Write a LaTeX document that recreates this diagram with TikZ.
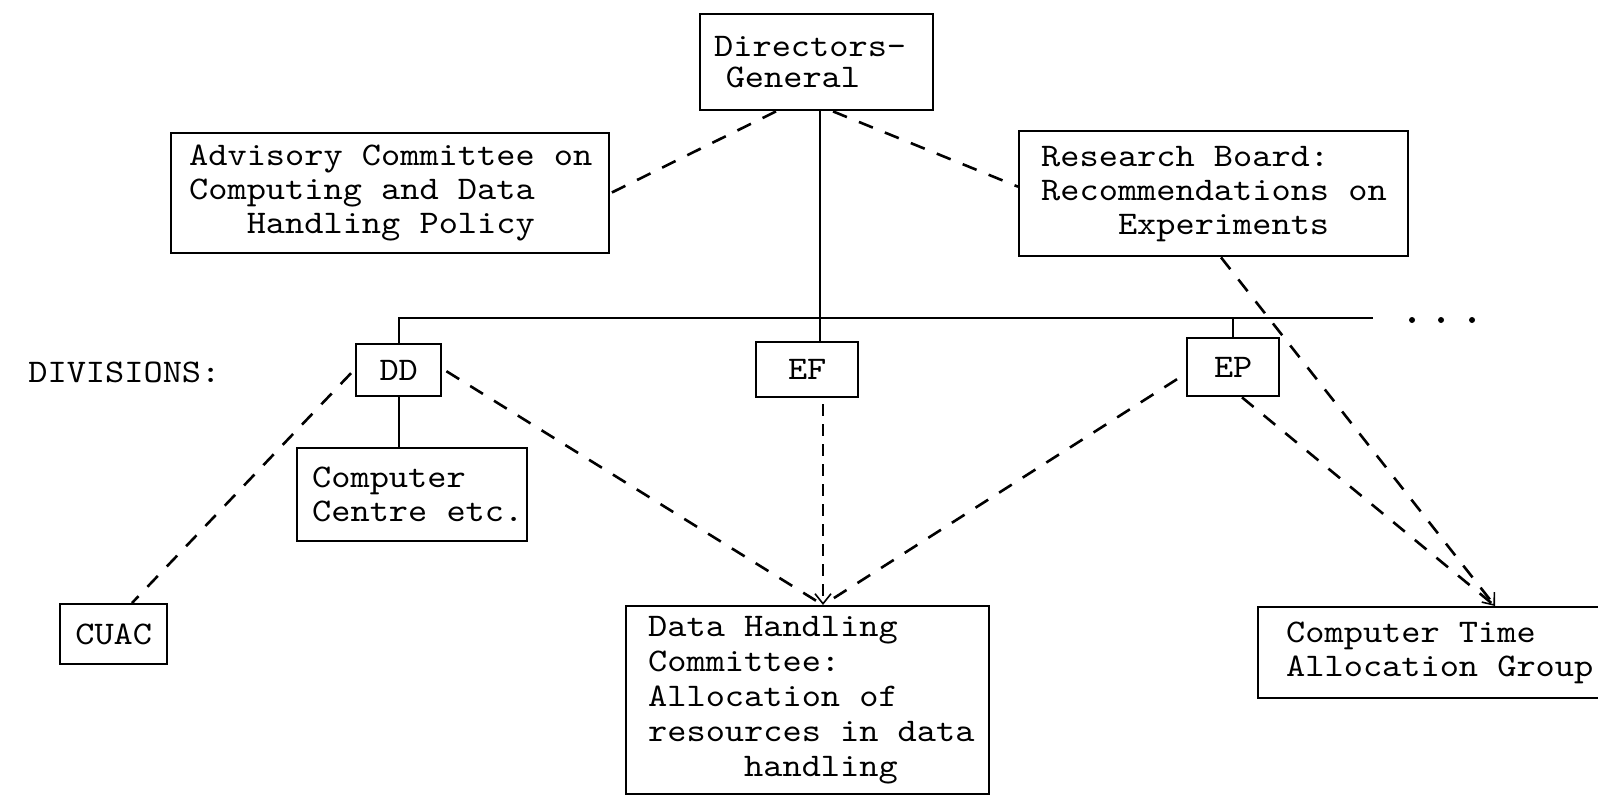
\documentclass[tikz,border=0pt]{standalone}
\usepackage{fontspec}
\newfontfamily\twfont{lmmono10-regular}[Extension=.otf, FakeStretch=1.108]
\usetikzlibrary{calc,arrows.meta}
\newcommand\sk{\phantom{x}}
\begin{document}
\begin{tikzpicture}[x=0.5pt,y=-0.5pt,
  every node/.style={font=\twfont\fontsize{16.5pt}{17pt}\selectfont},
  box/.style={draw, line width=1.2pt, rectangle, inner ysep=0pt, anchor=north west, align=left},
  sbox/.style={draw, line width=1.2pt, rectangle, inner sep=0pt, anchor=north west, align=center},
  link/.style={line width=0.8pt},
  dlink/.style={line width=1.3pt, dash pattern=on 7.5pt off 6.5pt},
  tlink/.style={line width=0.6pt, dash pattern=on 6pt off 4pt},
  tip/.style={-{Straight Barb[length=5pt,width=8pt,line width=0.8pt]}}
]
\fill[white] (0,0) rectangle (1598,797);
\useasboundingbox (0,0) rectangle (1598,797);

% boxes
\node[box, minimum width=116.5pt, minimum height=48pt, text width=102.5pt, inner xsep=7pt,
  font=\twfont\fontsize{16.5pt}{15.5pt}\selectfont] (dg) at (699,13)
  {Directors-\\\hspace*{0.35em}General};
\node[box, minimum width=219pt, minimum height=60pt, text width=201pt, inner xsep=9pt] (adv) at (170,132)
  {Advisory\sk Committee\sk on\\Computing\sk and\sk Data\\\phantom{xxx}Handling\sk Policy};
\node[box, minimum width=194.5pt, minimum height=62.5pt, text width=172.5pt, inner xsep=11pt] (rb) at (1018,130)
  {Research\sk Board:\\Recommendations\sk on\\\phantom{xxxx}Experiments};
\node[sbox, minimum width=42.5pt, minimum height=26pt] (dd) at (355,343) {DD};
\node[sbox, minimum width=51pt, minimum height=27.5pt] (ef) at (755,341) {EF};
\node[sbox, minimum width=46pt, minimum height=29pt] (ep) at (1186,337) {EP};
\node[box, minimum width=115pt, minimum height=46.5pt, text width=100pt, inner xsep=7.5pt] (cc) at (296,447)
  {Computer\\Centre\sk etc.};
\node[sbox, minimum width=53.5pt, minimum height=30pt] (cuac) at (59,603) {CUAC};
\node[box, minimum width=181.5pt, minimum height=94pt, text width=159.5pt, inner xsep=11pt,
  font=\twfont\fontsize{16.5pt}{17.5pt}\selectfont] (dhc) at (625,605)
  {Data\sk Handling\\Committee:\\Allocation\sk of\\resources\sk in\sk data\\\phantom{xxxxx}handling};
\node[box, minimum width=181.5pt, minimum height=45.5pt, text width=153.5pt, inner xsep=14pt] (ctag) at (1257,606)
  {Computer\sk Time\\Allocation\sk Group};
\node[anchor=west, inner sep=0pt] (div) at (28,372) {DIVISIONS:};

% coordinates
\coordinate (busR) at (1373,318);
\coordinate (dhcin) at ($(dhc.north west)+(198,0)$);
\coordinate (ctagin) at ($(ctag.north west)+(238,0)$);

% solid hierarchy
\draw[link] (dd.north) |- (busR);
\draw[link] ($(dg.south west)+(121,0)$) -- ($(ef.north west)+(65,0)$);
\draw[link] (ep.north) -- (ep.north |- busR);
\draw[link] (dd.south) -- (dd.south |- cc.north);
\fill (1412,320) circle (1.5pt);
\fill (1441,320) circle (1.5pt);
\fill (1472,320) circle (1.5pt);

% dashed relations
\draw[dlink] ($(dg.south west)+(77,0)$) -- (adv.east);
\draw[dlink] ($(dg.south west)+(134,0)$) -- ($(rb.west)+(0,-7)$);
\draw[dlink] ($(dd.west)+(-4,3)$) -- ($(cuac.north west)+(73,0)$);
\draw[dlink] ($(dd.east)+(4,1)$) -- (dhcin);
\draw[tlink, tip] ($(dhcin |- ef.south)+(0,6)$) -- (dhcin);
\draw[dlink] ($(ep.west)+(-9,12)$) -- (dhcin);
\draw[dlink] ($(ep.south west)+(56,0)$) -- (ctagin);
\draw[dlink, tip] ($(rb.south west)+(203,0)$) -- (ctagin);
\end{tikzpicture}
\end{document}
